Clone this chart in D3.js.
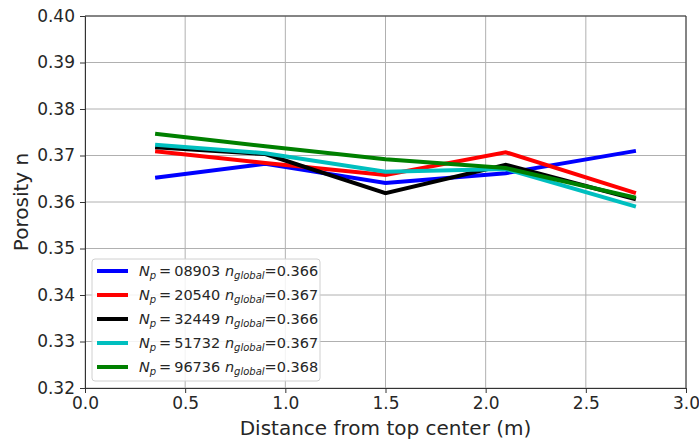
<!DOCTYPE html>
<html><head><meta charset="utf-8">
<script src="https://cdn.jsdelivr.net/npm/d3@7"></script>
<style>body{margin:0;background:#fff;} text{font-family:"DejaVu Sans",sans-serif;fill:#262626;}</style>
</head><body><svg id="c" width="699" height="439"></svg>
<script>
const xPositions = [0.35, 0.9, 1.5, 2.1, 2.75];
const seriesNames = ["08903", "20540", "32449", "51732", "96736"];
const globalPorosity = ["0.366", "0.367", "0.366", "0.367", "0.368"];
const seriesColors = ["#0000ff", "#ff0000", "#000000", "#00bfbf", "#008000"];
const blueValues  = [0.3652, 0.3682, 0.3641, 0.3662, 0.3710];
const redValues   = [0.3709, 0.3684, 0.3658, 0.3707, 0.3619];
const blackValues = [0.3718, 0.3703, 0.3619, 0.3680, 0.3606];
const cyanValues  = [0.3723, 0.3705, 0.3665, 0.3671, 0.3590];
const greenValues = [0.3747, 0.3720, 0.3692, 0.3673, 0.3609];
const xTicks = [0.0, 0.5, 1.0, 1.5, 2.0, 2.5, 3.0];
const yTicks = [0.32, 0.33, 0.34, 0.35, 0.36, 0.37, 0.38, 0.39, 0.40];

const allValues = [blueValues, redValues, blackValues, cyanValues, greenValues];
const svg = d3.select("#c");
const L = 85, R = 686, T = 16, B = 388;
const x = d3.scaleLinear().domain([0, 3]).range([L, R]);
const y = d3.scaleLinear().domain([0.32, 0.40]).range([B, T]);

// grid
const g = svg.append("g");
g.selectAll(".gx").data(xTicks).enter().append("line")
  .attr("x1", d => x(d)).attr("x2", d => x(d)).attr("y1", T).attr("y2", B)
  .attr("stroke", "#b0b0b0").attr("stroke-width", 1);
g.selectAll(".gy").data(yTicks).enter().append("line")
  .attr("y1", d => y(d)).attr("y2", d => y(d)).attr("x1", L).attr("x2", R)
  .attr("stroke", "#b0b0b0").attr("stroke-width", 1);

// lines
const line = d3.line().x((d, i) => x(xPositions[i])).y(d => y(d));
allValues.forEach((vals, k) => {
  svg.append("path").datum(vals).attr("d", line).attr("fill", "none")
    .attr("stroke", seriesColors[k]).attr("stroke-width", 4).attr("stroke-linejoin", "miter");
});

// axes
const xAxis = svg.append("g").attr("transform", `translate(0,${B})`)
  .call(d3.axisBottom(x).tickValues(xTicks).tickFormat(d3.format(".1f")).tickSize(5).tickPadding(4));
const yAxis = svg.append("g").attr("transform", `translate(${L},0)`)
  .call(d3.axisLeft(y).tickValues(yTicks).tickFormat(d3.format(".2f")).tickSize(5).tickPadding(5));
[xAxis, yAxis].forEach(a => {
  a.selectAll("text").style("font-size", "17px").style("font-family", "DejaVu Sans").attr("fill", "#262626");
  a.selectAll("line").attr("stroke", "#333");
  a.select(".domain").attr("stroke", "#333");
});
svg.append("line").attr("x1", L).attr("x2", R).attr("y1", T).attr("y2", T).attr("stroke", "#333");
svg.append("line").attr("x1", R).attr("x2", R).attr("y1", T).attr("y2", B).attr("stroke", "#333");

svg.append("text").attr("x", (L + R) / 2).attr("y", 435).attr("text-anchor", "middle")
  .style("font-size", "20px").text("Distance from top center (m)");
svg.append("text").attr("transform", `translate(28,${(T + B) / 2}) rotate(-90)`).attr("text-anchor", "middle")
  .style("font-size", "20px").text("Porosity n");

// legend
const lg = svg.append("g");
lg.append("rect").attr("x", 92).attr("y", 259).attr("width", 228).attr("height", 122).attr("rx", 3)
  .attr("fill", "#fff").attr("fill-opacity", 0.85).attr("stroke", "#d0d0d0");
seriesNames.forEach((nm, k) => {
  const yy = 271 + k * 24;
  lg.append("line").attr("x1", 97).attr("x2", 128).attr("y1", yy).attr("y2", yy)
    .attr("stroke", seriesColors[k]).attr("stroke-width", 4);
  const t = lg.append("text").attr("x", 139).attr("y", yy + 5).style("font-size", "14.5px");
  t.append("tspan").style("font-style", "italic").text("N");
  t.append("tspan").style("font-style", "italic").style("font-size", "10px").attr("dy", 3).text("p");
  t.append("tspan").attr("dy", -3).text("\u2009=\u2009" + nm + " ");
  t.append("tspan").style("font-style", "italic").text("n");
  t.append("tspan").style("font-style", "italic").style("font-size", "10px").attr("dy", 3).text("global");
  t.append("tspan").attr("dy", -3).text("=" + globalPorosity[k]);
});
</script></body></html>
